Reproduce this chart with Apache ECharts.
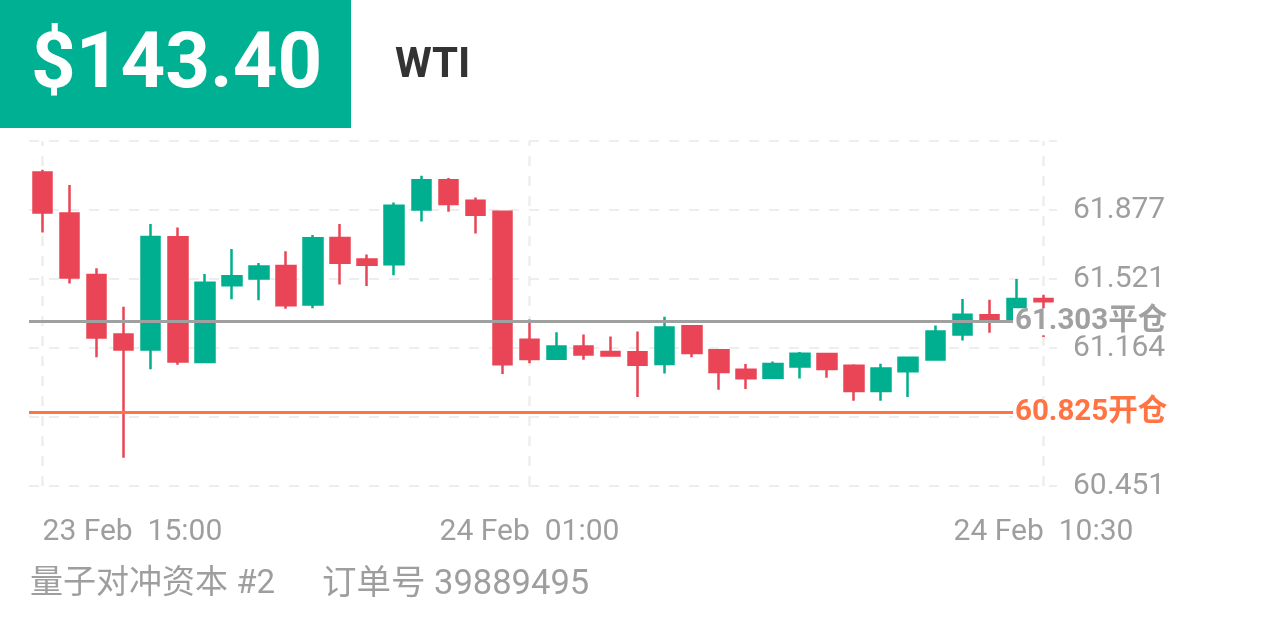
<!DOCTYPE html>
<html>
<head>
<meta charset="utf-8">
<script src="https://cdn.jsdelivr.net/npm/echarts@6/dist/echarts.min.js"></script>
<style>
html,body{margin:0;padding:0;background:#fff;}
#chart{width:1266px;height:633px;}
</style>
</head>
<body>
<div id="chart"></div>
<script>
const categories = [
  '23 Feb  15:00','23 Feb  15:30','23 Feb  16:00','23 Feb  16:30',
  '23 Feb  18:00','23 Feb  18:30','23 Feb  19:00','23 Feb  19:30','23 Feb  20:00','23 Feb  20:30',
  '23 Feb  21:00','23 Feb  21:30','23 Feb  22:00','23 Feb  22:30','23 Feb  23:00','23 Feb  23:30',
  '24 Feb  00:00','24 Feb  00:30','24 Feb  01:00','24 Feb  01:30','24 Feb  02:00','24 Feb  02:30',
  '24 Feb  03:00','24 Feb  03:30','24 Feb  04:00','24 Feb  04:30','24 Feb  05:00','24 Feb  05:30',
  '24 Feb  06:00','24 Feb  06:30','24 Feb  07:00','24 Feb  07:30','24 Feb  08:00','24 Feb  08:30',
  '24 Feb  09:00','24 Feb  09:30','24 Feb  10:00','24 Feb  10:30'
];
const opens  = [62.071,61.859,61.542,61.234,61.157,61.736,61.092,61.488,61.524,61.588,61.389,61.733,61.621,61.597,61.880,62.031,61.925,61.868,61.207,61.109,61.172,61.143,61.142,61.081,61.276,61.152,61.052,61.011,61.069,61.133,61.073,60.942,61.044,61.105,61.234,61.334,61.306,61.418];
const closes = [61.864,61.528,61.219,61.157,61.738,61.094,61.502,61.535,61.585,61.385,61.731,61.605,61.595,61.899,62.031,61.908,61.853,61.080,61.107,61.172,61.130,61.125,61.078,61.270,61.138,61.040,61.008,61.081,61.134,61.056,60.942,61.058,61.114,61.250,61.336,61.306,61.418,61.406];
const lows   = [61.761,61.497,61.117,60.597,61.054,61.078,61.090,61.416,61.411,61.367,61.370,61.492,61.485,61.540,61.818,61.868,61.756,61.030,61.086,61.107,61.104,61.124,60.911,61.033,61.116,60.949,60.952,61.009,61.006,61.011,60.891,60.891,60.911,61.103,61.203,61.243,61.300,61.221];
const highs  = [62.085,62.007,61.576,61.377,61.805,61.787,61.547,61.676,61.604,61.664,61.748,61.805,61.647,61.916,62.054,62.043,61.942,61.870,61.312,61.245,61.234,61.224,61.250,61.326,61.279,61.155,61.081,61.095,61.143,61.135,61.080,61.083,61.116,61.281,61.418,61.413,61.521,61.440];

const yMin = 60.451;
const yMax = 62.234;
const yTickLabels = ['60.451','60.808','61.164','61.521','61.877','62.234'];
const xLabelIndices = [0, 18, 37];

const priceLines = [61.303, 60.825];
const priceLineTags = ['平仓', '开仓'];
const priceLineColors = ['#a0a0a0', '#ff7442'];

const headerPrice = '$143.40';
const symbolName = 'WTI';
const accountName = '量子对冲资本 #2';
const orderText = '订单号 39889495';

const GREEN = '#00af8f';
const RED = '#ea4556';
const FONT = 'Roboto, "Noto Sans CJK SC", sans-serif';

const candleData = opens.map((o, i) => [o, closes[i], lows[i], highs[i]]);

const chart = echarts.init(document.getElementById('chart'), null, {renderer: 'canvas'});
chart.setOption({
  animation: false,
  backgroundColor: '#fff',
  grid: {left: 29, right: 209, top: 141, bottom: 147},
  xAxis: {
    type: 'category',
    data: categories,
    boundaryGap: true,
    axisLine: {show: false},
    axisTick: {show: false},
    splitLine: {show: false},
    axisLabel: {
      interval: (i) => xLabelIndices.includes(i),
      color: '#9e9e9e',
      fontSize: 30,
      fontFamily: FONT,
      margin: 31,
      alignMinLabel: 'left'
    }
  },
  yAxis: [
    {type: 'value', min: yMin, max: yMax, show: false},
    {
      type: 'value', min: 0, max: 5, interval: 1, position: 'right',
      axisLine: {show: false}, axisTick: {show: false},
      axisLabel: {
        formatter: (v) => yTickLabels[Math.round(v)],
        showMaxLabel: false,
        color: '#9e9e9e', fontSize: 30, fontFamily: FONT, margin: 16
      },
      splitLine: {show: true, lineStyle: {color: '#eeeeee', type: [10, 10], width: 2}}
    }
  ],
  series: [
    {
      type: 'line', data: [], xAxisIndex: 0, yAxisIndex: 0, silent: true,
      markLine: {
        z: 1, silent: true, symbol: 'none', animation: false,
        label: {show: false},
        lineStyle: {color: '#eeeeee', type: [10, 10], width: 2.5},
        data: xLabelIndices.map(i => ({xAxis: categories[i]}))
      }
    },
    {
      type: 'candlestick',
      data: candleData,
      xAxisIndex: 0, yAxisIndex: 0,
      barWidth: 19,
      itemStyle: {color: GREEN, color0: RED, borderColor: GREEN, borderColor0: RED, borderWidth: 2.5},
      markLine: {
        silent: true, symbol: 'none', animation: false,
        data: priceLines.map((p, k) => ({
          yAxis: p,
          lineStyle: {color: priceLineColors[k], width: 3, type: 'solid'},
          label: {
            show: true, position: 'end', distance: -44,
            formatter: () => p.toFixed(3) + priceLineTags[k],
            color: priceLineColors[k], fontWeight: 'bold', fontSize: 29.5, fontFamily: FONT,
            lineHeight: 27,
            backgroundColor: '#ffffff', padding: [0, 2, 0, 2]
          }
        }))
      }
    }
  ],
  graphic: [
    {type: 'rect', left: 0, top: 0, shape: {width: 351, height: 128}, style: {fill: '#00b093'}},
    {type: 'text', x: 31, y: 67, style: {text: headerPrice, fill: '#ffffff', font: 'bold 78px Roboto', textVerticalAlign: 'middle'}},
    {type: 'text', x: 395, y: 66, style: {text: symbolName, fill: '#333333', font: 'bold 42px Roboto', textVerticalAlign: 'middle'}},
    {type: 'text', x: 30, y: 585, style: {text: accountName, fill: '#9e9e9e', font: '33px Roboto, "Noto Sans CJK SC"', textVerticalAlign: 'middle'}},
    {type: 'text', x: 322, y: 585, style: {text: orderText, fill: '#9e9e9e', font: '34.5px Roboto, "Noto Sans CJK SC"', textVerticalAlign: 'middle'}}
  ]
});
</script>
</body>
</html>
